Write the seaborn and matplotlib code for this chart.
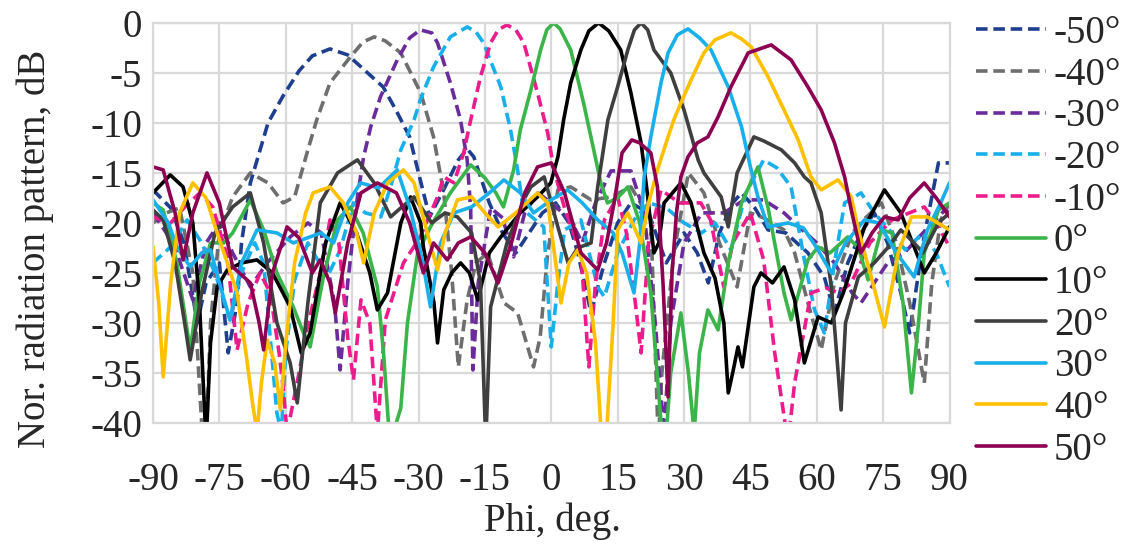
import matplotlib
matplotlib.use("Agg")
import matplotlib.pyplot as plt
import seaborn as sns

# scan angle labels and styles
labels = ["-50°", "-40°", "-30°", "-20°", "-10°", "0°", "10°", "20°", "30°", "40°", "50°"]
colors = ["#1F3F8E", "#6E6E6E", "#6A2C9A", "#19AFEA", "#EC1C8C",
          "#3BB44A", "#000000", "#3F3F3F", "#19AFEA", "#FFC000", "#8C0052"]
dashed = [True, True, True, True, True, False, False, False, False, False, False]

# values (phi in deg, pattern in dB)
phi_m50 = [-90, -86, -83, -80, -78, -75, -73, -71, -70, -68, -64, -60.6, -57, -54, -50, -46, -42, -38, -35, -32,
           -30, -27.5, -24, -21, -19, -17.5, -14, -11, -8, -5, -2, 1, 4, 6, 9, 12, 15, 18, 22, 26, 30, 33, 35.5,
           38, 41, 43, 46, 49, 53, 58, 61.7, 64, 67, 70, 73, 76, 79, 81, 84, 87.5, 90]
db_m50 = [-16.7, -18.5, -22, -30, -26, -24, -33, -28, -22, -16, -10, -7.3, -4.8, -3.3, -2.6, -3.2, -4.8, -6.4,
          -8.8, -11.4, -15, -19.4, -16.4, -13.7, -12.6, -13.4, -18, -21, -23, -21, -19, -18, -20, -23, -29, -24,
          -20, -18, -19, -24, -21, -23, -26, -21, -18, -17, -18.5, -20.7, -21, -23, -25.4, -29, -24, -21, -19,
          -22, -27, -31, -22, -14, -14]

phi_m40 = [-90, -87, -84, -81, -79, -78, -77, -75, -72, -68, -64, -60.6, -58, -55, -53, -50, -45.4, -42.5, -40,
           -37.5, -34, -29.5, -26.6, -24.3, -22.5, -21, -19, -17, -14.4, -10.7, -7.6, -4, -2.5, -0.8, 1.5, 4.4, 9,
           13.5, 18, 22.5, 23.3, 24.2, 25, 27.7, 31, 34.5, 38, 42, 45, 48, 52.6, 55, 58, 61, 64, 68, 71, 74.6, 78,
           81, 84.3, 86, 88, 90]
db_m40 = [-20, -19, -18.5, -25, -40, -42, -30, -21, -17.4, -15, -16, -18, -17.4, -12.7, -9.7, -6, -3.4, -1.9,
          -1.4, -1.8, -3, -7, -11.4, -17, -25, -34.4, -27.7, -24, -23, -28, -29, -34.4, -31.4, -23, -16.7, -16.4,
          -17.7, -17.4, -16.4, -19.7, -30, -42, -35, -23, -15, -17, -22, -26.4, -19, -19.5, -20.7, -23, -28, -32.7,
          -26, -21, -19.5, -18, -22, -28, -36, -26, -19.7, -18]

phi_m30 = [-90, -87, -84.6, -81, -78, -75, -72, -68, -64.2, -59, -55, -52, -49, -47.7, -46, -43.8, -42.4, -40.8,
           -38.6, -34.8, -32, -29.6, -27, -25.7, -22.8, -20.5, -19, -18.2, -17.9, -17.7, -16.5, -13.7, -11, -8.5,
           -6, -3, 0, 4.4, 7, 10, 13.5, 18, 21, 23.5, 25.5, 27, 30, 34, 39, 43.6, 48, 52.6, 56, 60, 64, 68, 70, 73,
           76, 79.8, 84, 89, 90]
db_m30 = [-19, -21, -23, -27.7, -22, -20, -23, -26.4, -24, -21.4, -20, -21, -28, -34.7, -26, -17.4, -13.4, -10.4,
          -7.4, -3.7, -1.5, -0.7, -1.0, -2, -6, -9.7, -13.7, -18.7, -29.4, -34.7, -26, -18.5, -19.5, -23.4, -19,
          -17, -18, -19.7, -22, -18, -14.8, -14.8, -19, -30, -41, -30, -22, -19, -19, -17.7, -17.7, -19, -20.4,
          -22, -24, -27, -28, -26, -24, -23, -21, -18.7, -19]

phi_m20 = [-90, -86, -82.3, -79, -76, -72.6, -70, -67, -65, -62, -61, -60, -58, -55, -50.6, -47.7, -44.7, -42,
           -38.5, -36.3, -34, -31, -29.6, -26.6, -22.8, -19, -17, -15.3, -11.4, -9.2, -7.6, -6.3, -1.7, 0, 1.5, 3,
           6.7, 10.5, 12, 15, 18.7, 22, 26, 30, 34, 37, 40.6, 44, 48, 51, 54.2, 57.2, 59.5, 61.7, 64, 66.3, 70, 73,
           77, 80, 84, 87, 90]
db_m20 = [-24, -22.4, -19.7, -22, -25, -29.7, -25, -22, -24, -39, -41, -33, -25.7, -22, -25.4, -22.7, -18, -19,
          -19.4, -16.4, -12.7, -9.7, -7.7, -4.4, -1.4, -0.4, -0.9, -2, -6.4, -10.7, -14.7, -18.7, -20.4, -32.4,
          -26, -20.7, -19.7, -26.4, -27.4, -23, -19.7, -18, -18.5, -20, -21, -20, -22.7, -17, -13.7, -14.5, -16.4,
          -23.7, -28.7, -31, -24, -18, -17, -19, -21, -22.7, -21, -23, -26.4]

phi_m10 = [-90, -86, -83, -79.4, -76.5, -73.2, -71, -68.5, -65.8, -63.5, -61.5, -60.6, -59.7, -57, -55.1, -52.2,
           -50, -48, -46, -44.7, -43, -41, -39.3, -37.5, -33.4, -29.6, -25.7, -24.3, -22, -19.8, -18.2, -16, -13.7,
           -12, -10, -8, -6.2, -3.1, -0.8, 0.6, 3, 5, 6.7, 8.5, 10, 12, 15, 17, 19, 20.3, 22, 24.8, 29, 33.8, 36, 39,
           41, 45, 48, 50.5, 53.5, 55, 58.7, 62, 65, 67.8, 72, 77, 84.3, 87, 90]
db_m10 = [-19.4, -20, -18.5, -17, -18.4, -23.4, -32.7, -28, -25, -27, -33, -36.4, -41, -35, -30.4, -25, -19.7, -22,
          -31.4, -35.7, -27.7, -30, -41, -29.7, -24, -21.4, -17.4, -15.4, -16, -13, -9.7, -5.4, -2, -0.7, -0.2,
          -0.7, -2, -7, -11, -14.7, -18.5, -21, -23, -34.4, -26, -19.7, -17.4, -21, -28, -33, -22, -16.7, -18, -18,
          -19.7, -26.4, -22, -19, -23.7, -33, -42, -36, -27, -26.5, -27, -26, -22, -19.7, -18.4, -20, -22.4]

phi_0 = [-90, -87.7, -84.6, -81.6, -79.5, -77, -74, -72, -68, -65, -62, -58.3, -56, -54.5, -51.5, -48.3, -45.4,
         -42.5, -39.3, -37.9, -36.8, -35.7, -34, -32.5, -30.2, -27.3, -22.8, -18.2, -15, -12.5, -10.8, -8.5, -7,
         -4.6, -2.4, -1, 0.5, 2, 4.4, 7.3, 9.6, 11.2, 12.7, 15, 17.3, 20, 22.5, 25, 26, 27, 29.3, 31, 32.3, 33.5,
         35.4, 37.7, 40, 43, 46.7, 49, 52.6, 54.2, 58, 60.3, 63, 67, 69.4, 71.6, 74.6, 77, 79.5, 81.4, 83, 84.3,
         87.5, 90]
db_0 = [-18, -18.7, -24, -32.7, -26, -22, -22, -21, -17.7, -20.7, -25, -28.4, -31, -32.4, -25.4, -19.7, -18.4,
        -21, -26.4, -33, -40, -41, -38.5, -30, -23, -20.4, -17, -14.2, -15.5, -17, -18.4, -14.7, -10.7, -6.7, -2.7,
        -0.7, 0, -0.6, -2.7, -8, -12.7, -16, -18, -17.5, -16.4, -20, -27, -41, -41, -35, -29, -35, -41, -33, -28.7,
        -30.7, -24, -18, -14.4, -18.5, -27, -29.7, -23.7, -22.4, -23, -21.4, -22.5, -25.7, -20.7, -21, -28, -37,
        -30, -23, -18.7, -18]

phi_10 = [-90, -86.1, -83.2, -81, -79.5, -78, -77, -75.5, -73.2, -70, -66.5, -63, -59, -56.5, -54.5, -51, -47.7,
          -44, -41, -39.3, -37, -34, -31.8, -29.5, -28.9, -26.5, -25.7, -24.3, -22.5, -20.5, -18.5, -16.6, -14,
          -11.4, -7, -3.1, -0.1, 1.5, 2.8, 4.4, 6.7, 8.5, 10.7, 13, 15.7, 18, 20.3, 21.7, 23.2, 24.3, 25.5, 29.3,
          31.6, 34.5, 37, 39, 40, 41, 42.2, 43.2, 45.8, 47.4, 50, 52.6, 55, 57.2, 60.3, 63.3, 66, 70.8, 75.3, 79,
          82.9, 84.3, 87, 90]
db_10 = [-17, -15.2, -16.4, -20, -28, -42, -32, -26.4, -24.7, -24, -23.7, -25, -28.4, -33, -31, -22, -18, -21, -25,
         -28.7, -27, -20, -17.4, -20, -22.4, -28, -32, -26.7, -25, -24, -25, -27.7, -23, -21.4, -19, -17.4, -16,
         -13.4, -9.7, -6, -2.7, -0.8, 0, -0.8, -2.7, -7, -12, -17, -23, -22, -18, -16, -18, -23, -25.5, -30, -37,
         -35, -32.4, -34.4, -26.4, -25, -26, -24.4, -27.7, -34, -29.4, -30, -27, -20.4, -16.7, -19, -23.4, -25,
         -23, -20.4]

phi_20 = [-90, -87.7, -85, -82.5, -81.6, -79, -76, -72, -68, -65, -62, -59, -57.4, -55, -52.2, -48.3, -43.8, -40,
          -36.3, -34, -31, -27, -24, -21.2, -18, -16, -14.8, -13.7, -10, -6, -4.6, -1.6, 1.5, 3.8, 6, 9, 10.5, 12.8,
          15, 17.3, 18.8, 20.3, 21.8, 23.2, 27, 30, 33.2, 34.5, 38.4, 40, 42, 45.8, 48, 52, 55, 57.2, 58.7, 61,
          63.3, 65.5, 66.5, 69.4, 73, 76.2, 79, 82, 84, 87.5, 90]
db_20 = [-18.7, -19.7, -24, -31, -33.7, -27, -21, -18.4, -17, -22, -30, -34, -38, -28, -18, -15, -13.7, -16,
         -19.4, -18.5, -17.4, -20, -19, -19.4, -21, -26, -42, -28.4, -22, -17.5, -16.4, -15.4, -20.4, -24, -22.5,
         -22, -16.4, -9.7, -6.4, -2.7, -0.7, 0, -0.7, -2.7, -5, -8.7, -13.7, -15, -17.4, -20.4, -15, -11.4, -11.8,
         -12.7, -14, -15.4, -16, -19, -26.4, -38.7, -30, -25.4, -24, -22.4, -20.7, -22, -23, -20, -19]

phi_30 = [-90, -86.5, -84.6, -81.6, -79, -77, -75, -72.6, -70, -66.5, -62, -58.3, -54.5, -52, -49.2, -46, -43.1,
          -39, -34.8, -31.8, -29, -27.3, -25, -22, -18, -14, -10.7, -7, -4, 0, 3.7, 7, 10.5, 14, 16, 18.7, 20, 21,
          22.5, 24.8, 26.4, 28.5, 30.9, 33.5, 36.1, 40, 43, 45, 46.7, 49, 53.5, 57, 60, 63.3, 66.5, 70.8, 74, 78,
          82, 85, 88, 90]
db_30 = [-17.7, -20, -22.4, -24.4, -23, -22.7, -26, -29.7, -24, -20.7, -21, -22, -21.4, -21, -22, -18, -16, -16.5,
         -14.7, -18.7, -24, -28.4, -22, -19, -18.4, -17, -15.7, -17, -19, -17.7, -16.7, -18, -19.7, -21, -23, -27,
         -22, -15.4, -11.4, -6, -3, -1.2, -0.6, -1.5, -2.7, -6.4, -10.4, -14.4, -17.4, -20.4, -20, -20.5, -22.5,
         -25, -22, -19.7, -20, -23, -25.4, -20.7, -18, -16]

phi_40 = [-90, -88.7, -87.7, -86, -84, -81, -78, -75.5, -73.2, -71, -69, -67.5, -66.5, -65.5, -64.2, -62.5, -61.2,
          -60, -58, -55.5, -53.8, -50, -47, -44, -42.4, -40, -37, -33.4, -31, -28, -25.7, -24, -21.2, -18, -15, -12,
          -8, -3.1, -0.8, 1, 2.2, 4, 6, 8, 10, 11.3, 12.5, 14, 15, 17.3, 20.3, 22, 24, 26.4, 27.7, 29.3, 31.6, 34.5,
          37, 40.6, 43, 45.2, 49, 52.6, 55.8, 58.7, 61, 64.8, 67.8, 69.4, 72.3, 75.3, 78.4, 81.4, 85, 90]
db_40 = [-22.4, -28, -35.4, -26, -19, -16, -17.5, -21, -24, -27, -33, -38, -41, -36, -31.7, -34, -38.7, -32, -24,
         -19, -17, -16.4, -18, -21, -24, -19, -16, -14.7, -16, -21, -24.7, -21, -17.7, -17.4, -19, -20.4, -19, -17,
         -18, -24, -28, -24, -22.7, -25, -32, -41, -41, -30, -20.7, -19, -22, -18, -14.7, -11.4, -9.7, -8, -5.7,
         -3, -1.7, -1, -1.6, -2.4, -5.4, -8.7, -11.7, -15.4, -16.7, -15.7, -17.4, -20.7, -25.4, -30.4, -23, -19.4,
         -19.4, -20.7]

phi_50 = [-90, -87.7, -85, -83.2, -81, -77.8, -75, -72, -68, -66, -65, -63, -59.7, -57, -54, -52.2, -50, -48.8,
          -46, -43, -39.3, -35, -32, -28.9, -26.6, -23.5, -21, -18.2, -15, -12, -9, -6, -3.1, 0, 3, 6.7, 10.5, 12.5,
          14.2, 16, 18.2, 20, 22.5, 24, 25.3, 26.4, 27.3, 28.3, 29.3, 30.9, 33, 35.4, 37.7, 40.6, 44.5, 49.7, 54.2,
          58, 61, 64, 66.3, 67.8, 70, 72.5, 75.3, 78.4, 81, 84.3, 87, 90]
db_50 = [-14.4, -14.7, -19, -23.7, -19, -15, -18, -24.4, -26, -30, -32.7, -25, -20.4, -21.5, -25, -23.7, -26, -29,
         -22, -17, -16, -17, -20, -25, -22, -23.7, -22, -21.4, -23, -26, -22, -17, -14.4, -14, -17, -23, -24.7, -22,
         -18, -13, -11.7, -12, -13, -16.4, -26.4, -37.4, -25, -19, -15.4, -13.4, -12, -11.4, -9.4, -6.4, -3, -2.2,
         -3.7, -6.4, -8.7, -12, -15.4, -18.7, -23, -21, -19.4, -19.7, -17.5, -16, -17.5, -19.4]

phis = [phi_m50, phi_m40, phi_m30, phi_m20, phi_m10, phi_0, phi_10, phi_20, phi_30, phi_40, phi_50]
dbs = [db_m50, db_m40, db_m30, db_m20, db_m10, db_0, db_10, db_20, db_30, db_40, db_50]

x_ticks = list(range(-90, 91, 15))
y_ticks = list(range(-40, 1, 5))

sns.set_style("white")
plt.rcParams["font.family"] = ["Liberation Serif", "DejaVu Serif"]
plt.rcParams["axes.unicode_minus"] = False
fs = 28

fig = plt.figure(figsize=(11.25, 5.45), dpi=100)
ax = fig.add_axes([0.136, 0.224, 0.708, 0.734])

for p, d, lab, c, dsh in zip(phis, dbs, labels, colors, dashed):
    ls = (0, (3.2, 1.6)) if dsh else "-"
    sns.lineplot(x=p, y=d, ax=ax, color=c, linewidth=2.6, linestyle=ls, label=lab)

if ax.get_legend() is not None:
    ax.get_legend().remove()

ax.set_xlim(-90, 90)
ax.set_ylim(-40, 0)
ax.set_xticks(x_ticks)
ax.set_yticks(y_ticks)
ax.set_xticklabels([str(t) for t in x_ticks], fontsize=fs)
ax.set_yticklabels([str(t) for t in y_ticks], fontsize=fs)
ax.tick_params(axis="x", length=0, pad=28)
ax.tick_params(axis="y", length=0, pad=8)
ax.grid(True, color="#D9D9D9", linewidth=1.6)
ax.set_axisbelow(True)
for s in ax.spines.values():
    s.set_color("#D9D9D9")
    s.set_linewidth(1.6)
ax.set_xlabel("")
ax.set_ylabel("")

fig.text(552 / 1125, 1 - 521 / 545, "Phi, deg.", fontsize=fs, ha="center", va="center")
fig.text(35 / 1125, 1 - 249 / 545, "Nor. radiation pattern, dB", fontsize=fs,
         ha="center", va="center", rotation=90)

h, l = ax.get_legend_handles_labels()
fig.legend(h, l, loc="upper left", bbox_to_anchor=(976 / 1125, 1 - 15 / 545), frameon=False,
           fontsize=fs, handlelength=1.8, handletextpad=0.2, labelspacing=0.12, borderpad=0,
           borderaxespad=0)

fig.savefig("out.png", dpi=100)
